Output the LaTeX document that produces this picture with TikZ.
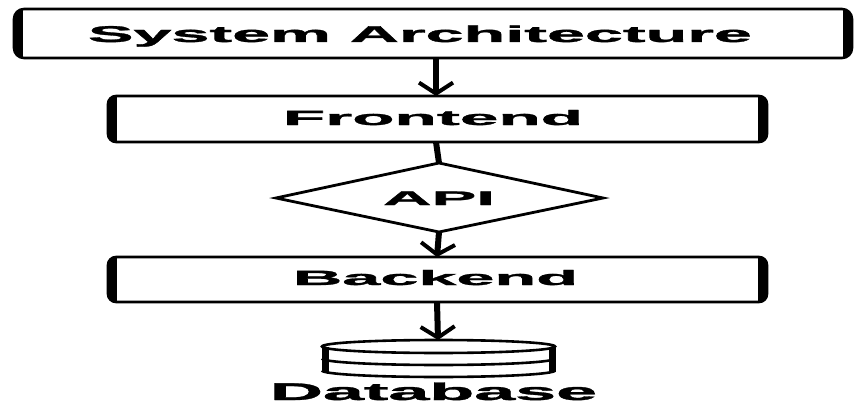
\documentclass[tikz,border=0pt]{standalone}
\usepackage{fontspec}
\setmainfont{Liberation Sans}[BoldFeatures={FakeBold=1.2}]
\usetikzlibrary{arrows.meta,shapes.geometric}
\newcommand\fitlabel[3]{\resizebox{#1}{#2}{\bfseries #3}}
\tikzset{
  boxline/.style={draw=black,line width=2.6pt},
  sideline/.style={line width=18pt},
  lbl/.style={inner sep=0pt,anchor=base},
  conn/.style={line width=6pt,-{Straight Barb[length=11pt,width=34pt,line width=4pt]}},
  plainconn/.style={line width=6pt},
}
\begin{document}
\begin{tikzpicture}[x=1pt,y=-1pt]
\useasboundingbox (0,0) rectangle (855,404);
\fill[white] (0,0) rectangle (855,404);
% title box
\begin{scope}
\clip[rounded corners=10pt] (14,9) rectangle (852,58);
\draw[sideline] (14,9) -- (14,58);
\draw[sideline] (852,9) -- (852,58);
\end{scope}
\draw[boxline,rounded corners=10pt] (14,9) rectangle (852,58);
\node[lbl] (title) at (420,42) {\fitlabel{664pt}{16.5pt}{System Architecture}};
\coordinate (titleb) at (436,58);
% frontend box
\begin{scope}
\clip[rounded corners=8pt] (108,96) rectangle (767,142);
\draw[sideline] (108,96) -- (108,142);
\draw[sideline] (767,96) -- (767,142);
\end{scope}
\draw[boxline,rounded corners=8pt] (108,96) rectangle (767,142);
\node[lbl] (front) at (433,125) {\fitlabel{300pt}{15pt}{Frontend}};
\coordinate (frontt) at (436,96);
\coordinate (frontb) at (436,142);
% API diamond
\draw[boxline,line width=2.8pt,line join=miter] (276,198) -- (439,163) -- (603,198) -- (439,232) -- cycle;
\node[lbl] (api) at (439,205) {\fitlabel{112pt}{13.5pt}{API}};
\coordinate (apit) at (439,163);
\coordinate (apib) at (439,232);
% backend box
\begin{scope}
\clip[rounded corners=8pt] (108,257) rectangle (767,302);
\draw[sideline] (108,257) -- (108,302);
\draw[sideline] (767,257) -- (767,302);
\end{scope}
\draw[boxline,rounded corners=8pt] (108,257) rectangle (767,302);
\node[lbl] (back) at (435.5,285) {\fitlabel{285pt}{15pt}{Backend}};
\coordinate (backt) at (437,257);
\coordinate (backb) at (437,302);
% database cylinder
\coordinate (dbt) at (438,340);
\draw[line width=2.6pt] (322,358.5) arc[start angle=180,end angle=0,x radius=116.5,y radius=6.5];
\draw[line width=2.6pt] (322,370.5) arc[start angle=180,end angle=0,x radius=116.5,y radius=6.5];
\draw[line width=2.6pt] (438.5,346.5) ellipse [x radius=116.5,y radius=6.5];
\draw[line width=7pt] (325,346.5) -- (325,371.5);
\draw[line width=7pt] (552,346.5) -- (552,371.5);
\node[lbl] (db) at (433.5,400) {\fitlabel{327pt}{17.5pt}{Database}};
% connectors
\draw[conn] (titleb) -- (frontt);
\draw[plainconn] (frontb) -- (apit);
\draw[conn] (apib) -- (backt);
\draw[conn] (backb) -- (dbt);
\end{tikzpicture}
\end{document}
